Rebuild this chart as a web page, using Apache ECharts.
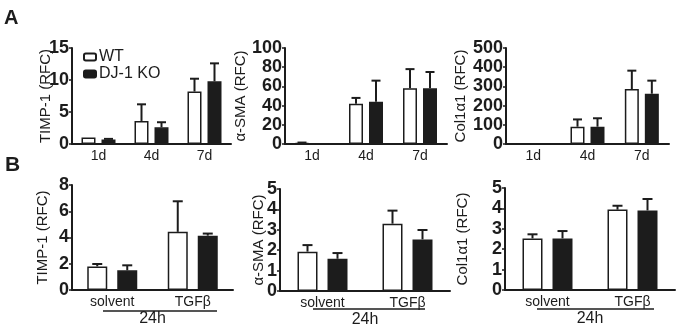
<!DOCTYPE html>
<html>
<head>
<meta charset="utf-8">
<script src="https://cdn.jsdelivr.net/npm/echarts@6/dist/echarts.min.js"></script>
<style>
  html, body { margin: 0; padding: 0; background: #fff; }
  #chart { width: 677px; height: 334px; }
</style>
</head>
<body>
<div id="chart"></div>
<script>
// categories
const catsA = ['1d', '4d', '7d'];
const catsB = ['solvent', 'TGFβ'];

// panel A: time course (mean, upper error)
const timpA_wt = [1.0, 3.6, 8.2];
const timpA_wtErr = [0, 2.6, 2.0];
const timpA_ko = [0.7, 2.6, 9.8];
const timpA_koErr = [0.1, 0.8, 2.8];

const smaA_wt = [1.0, 42, 58];
const smaA_wtErr = [0.5, 6, 20];
const smaA_ko = [0.5, 44, 58];
const smaA_koErr = [0, 22, 17];

const colA_wt = [1, 90, 286];
const colA_wtErr = [0, 38, 96];
const colA_ko = [0, 90, 262];
const colA_koErr = [0, 44, 68];

// panel B: 24h solvent / TGFβ
const timpB_wt = [1.8, 4.43];
const timpB_wtErr = [0.18, 2.33];
const timpB_ko = [1.5, 4.14];
const timpB_koErr = [0.38, 0.16];

const smaB_wt = [1.93, 3.3];
const smaB_wtErr = [0.32, 0.64];
const smaB_ko = [1.58, 2.53];
const smaB_koErr = [0.28, 0.46];

const colB_wt = [2.53, 3.94];
const colB_wtErr = [0.2, 0.19];
const colB_ko = [2.53, 3.9];
const colB_koErr = [0.36, 0.56];

// y axis scales
const yMax = [15, 100, 500, 8, 5, 5];
const yStep = [5, 20, 100, 2, 1, 1];
const yNames = ['TIMP-1 (RFC)', 'α-SMA (RFC)', 'Col1α1 (RFC)', 'TIMP-1 (RFC)', 'α-SMA (RFC)', 'Col1α1 (RFC)'];

const ink = '#1c1c1c';
const font = 'Liberation Sans, Arial, sans-serif';

// layout of the six small charts
const panels = [
  { left: 72, top: 48, width: 159, height: 96, cats: catsA, nameGap: 19, bw: 14, off: 10, cap: 9 },
  { left: 285, top: 48, width: 162, height: 96, cats: catsA, nameGap: 37, bw: 14, off: 10, cap: 9 },
  { left: 506, top: 48, width: 163, height: 96, cats: catsA, nameGap: 38, bw: 14, off: 10, cap: 9 },
  { left: 72, top: 185, width: 161, height: 105, cats: catsB, nameGap: 22, bw: 20, off: 15, cap: 10 },
  { left: 280, top: 189, width: 170, height: 102, cats: catsB, nameGap: 14, bw: 20, off: 15, cap: 10 },
  { left: 505, top: 188, width: 170, height: 102, cats: catsB, nameGap: 35, bw: 20, off: 15, cap: 10 }
];

const seriesData = [
  [timpA_wt, timpA_wtErr, timpA_ko, timpA_koErr],
  [smaA_wt, smaA_wtErr, smaA_ko, smaA_koErr],
  [colA_wt, colA_wtErr, colA_ko, colA_koErr],
  [timpB_wt, timpB_wtErr, timpB_ko, timpB_koErr],
  [smaB_wt, smaB_wtErr, smaB_ko, smaB_koErr],
  [colB_wt, colB_wtErr, colB_ko, colB_koErr]
];

const grid = [], xAxis = [], yAxis = [], series = [];

// error bar (upward only, with cap)
const errorBar = (off, cap) => (params, api) => {
  const c = api.value(0);
  const base = api.coord([c, api.value(1)]);
  const top = api.coord([c, api.value(1) + api.value(2)]);
  const x = base[0] + off;
  if (api.value(2) <= 0) return null;
  return {
    type: 'group',
    children: [
      { type: 'line', shape: { x1: x, y1: base[1], x2: x, y2: top[1] }, style: { stroke: ink, lineWidth: 2 } },
      { type: 'line', shape: { x1: x - cap / 2, y1: top[1], x2: x + cap / 2, y2: top[1] }, style: { stroke: ink, lineWidth: 2 } }
    ]
  };
};

panels.forEach((p, i) => {
  grid.push({ left: p.left, top: p.top, width: p.width, height: p.height });
  xAxis.push({
    type: 'category',
    gridIndex: i,
    data: p.cats,
    axisLine: { lineStyle: { color: ink, width: 2 } },
    axisTick: { alignWithLabel: true, length: 4, lineStyle: { color: ink, width: 1.5 } },
    axisLabel: { color: ink, fontSize: 14, fontFamily: font, margin: 5 },
    name: i >= 3 ? '24h' : '',
    nameLocation: 'middle',
    nameGap: 21,
    nameMoveOverlap: false,
    nameTextStyle: { color: ink, fontSize: 16, fontFamily: font }
  });
  yAxis.push({
    type: 'value',
    gridIndex: i,
    min: 0,
    max: yMax[i],
    interval: yStep[i],
    name: yNames[i],
    nameLocation: 'middle',
    nameGap: p.nameGap,
    nameMoveOverlap: false,
    nameTextStyle: { color: ink, fontSize: 15, fontFamily: font },
    axisLine: { show: true, lineStyle: { color: ink, width: 2 } },
    axisTick: { show: true, length: 3, lineStyle: { color: ink, width: 1.5 } },
    axisLabel: { color: ink, fontSize: 18, fontWeight: 'bold', fontFamily: font, margin: 3 },
    splitLine: { show: false }
  });

  const [wt, wtErr, ko, koErr] = seriesData[i];
  series.push({
    name: 'WT', type: 'bar', xAxisIndex: i, yAxisIndex: i,
    data: wt, barWidth: p.bw, barGap: (p.off * 2 - p.bw) / p.bw * 100 + '%',
    itemStyle: { color: '#fff', borderColor: ink, borderWidth: 1.5 }
  });
  series.push({
    name: 'DJ-1 KO', type: 'bar', xAxisIndex: i, yAxisIndex: i,
    data: ko, barWidth: p.bw,
    itemStyle: { color: ink, borderColor: ink, borderWidth: 1.5 }
  });
  series.push({
    type: 'custom', xAxisIndex: i, yAxisIndex: i, z: 3,
    renderItem: errorBar(-p.off, p.cap),
    data: wt.map((v, k) => [k, v, wtErr[k]])
  });
  series.push({
    type: 'custom', xAxisIndex: i, yAxisIndex: i, z: 3,
    renderItem: errorBar(p.off, p.cap),
    data: ko.map((v, k) => [k, v, koErr[k]])
  });
});

const myChart = echarts.init(document.getElementById('chart'));
myChart.setOption({
  animation: false,
  backgroundColor: '#fff',
  grid, xAxis, yAxis, series,
  legend: {
    data: ['WT', 'DJ-1 KO'],
    orient: 'vertical',
    left: 78,
    top: 44,
    itemWidth: 12,
    itemHeight: 7,
    itemGap: 1,
    textStyle: { color: ink, fontSize: 16, fontFamily: font, padding: [0, 0, 0, -2] }
  },
  graphic: [
    { type: 'text', left: 4, top: 8, style: { text: 'A', fontSize: 20, fontWeight: 'bold', fontFamily: font, fill: ink } },
    { type: 'text', left: 5, top: 155, style: { text: 'B', fontSize: 21, fontWeight: 'bold', fontFamily: font, fill: ink } },
    // 24h underlines
    { type: 'line', shape: { x1: 103, y1: 311, x2: 217, y2: 311 }, style: { stroke: ink, lineWidth: 1.5 } },
    { type: 'line', shape: { x1: 313, y1: 309, x2: 425, y2: 309 }, style: { stroke: ink, lineWidth: 1.5 } },
    { type: 'line', shape: { x1: 537, y1: 309, x2: 654, y2: 309 }, style: { stroke: ink, lineWidth: 1.5 } }
  ]
});
window.addEventListener('resize', () => myChart.resize());
</script>
</body>
</html>
